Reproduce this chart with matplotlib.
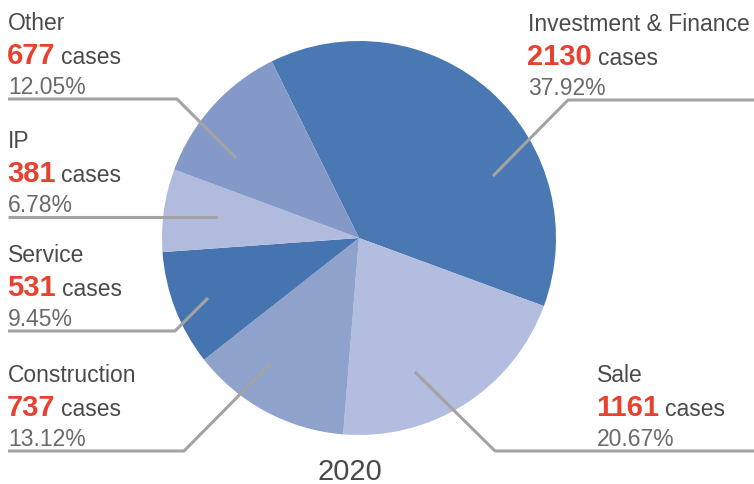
import matplotlib
matplotlib.use("Agg")
import matplotlib.pyplot as plt

# Case distribution 2020
categories = ["Investment & Finance", "Sale", "Construction", "Service", "IP", "Other"]
cases = [2130, 1161, 737, 531, 381, 677]
shares = ["37.92%", "20.67%", "13.12%", "9.45%", "6.78%", "12.05%"]
colors = ["#4a78b2", "#b3bddf", "#8ea2cc", "#4574b0", "#b0bbdd", "#8599c8"]
year = "2020"

plt.rcParams['font.family'] = ['Liberation Sans', 'DejaVu Sans']

W, H = 754, 485
fig = plt.figure(figsize=(W / 100, H / 100), dpi=100)
ax = fig.add_axes([0, 0, 1, 1])


def Y(y):
    # pixel row (from top) -> axes y (from bottom)
    return H - y


# pie in pixel space
cx, cy, r = 359, 239, 197
ax.pie(cases, colors=colors, startangle=116.3, counterclock=False,
       center=(cx, Y(cy)), radius=r, frame=True,
       wedgeprops=dict(linewidth=0))
ax.set_xlim(0, W)
ax.set_ylim(0, H)
ax.set_aspect('auto')
ax.axis('off')

# label layout: text x, underline y, leader path (ends inside slice)
layout = {
    "Investment & Finance": dict(tx=528, ly=101, path=[(754, 101), (568, 101), (493, 177)]),
    "Sale": dict(tx=597, ly=452, path=[(754, 452), (495, 452), (415, 373)]),
    "Construction": dict(tx=8, ly=452, path=[(8, 452), (184, 452), (271, 364)]),
    "Service": dict(tx=8, ly=332, path=[(8, 332), (175, 332), (208, 299)]),
    "IP": dict(tx=8, ly=218, path=[(8, 218), (217, 218)]),
    "Other": dict(tx=8, ly=100, path=[(8, 100), (177, 100), (236, 159)]),
}

line_color = "#a3a3a3"
red = "#e8412f"
renderer = fig.canvas.get_renderer()

for name, n, pct in zip(categories, cases, shares):
    lay = layout[name]
    xs = [p[0] for p in lay["path"]]
    ys = [Y(p[1]) for p in lay["path"]]
    ax.plot(xs, ys, color=line_color, lw=2.2, solid_capstyle='butt', zorder=3)
    tx, ly = lay["tx"], lay["ly"]
    ax.text(tx, Y(ly - 70), name, fontsize=16.5, color="#4a4a4a", va='baseline', ha='left')
    t = ax.text(tx - 1, Y(ly - 36), str(n), fontsize=21, fontweight='bold', color=red,
                va='baseline', ha='left')
    w = t.get_window_extent(renderer).width
    ax.text(tx - 1 + w + 6, Y(ly - 36), "cases", fontsize=16.5, color="#4a4a4a",
            va='baseline', ha='left')
    ax.text(tx, Y(ly - 6), pct, fontsize=16.5, color="#6a6a6a", va='baseline', ha='left')

ax.text(350, Y(480), year, fontsize=21, color="#4a4a4a", ha='center', va='baseline')

fig.savefig("out.png", dpi=100)
